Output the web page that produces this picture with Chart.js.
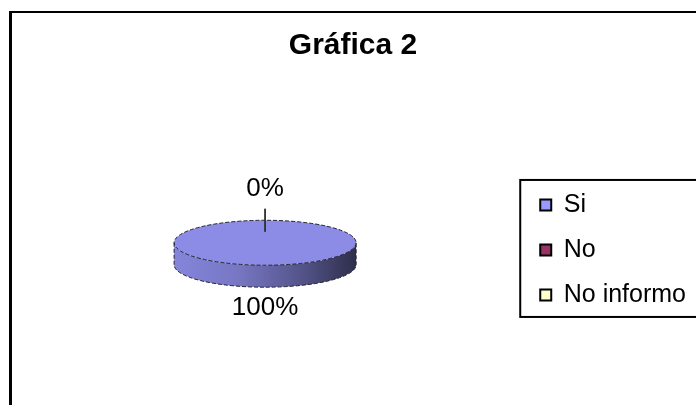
<!DOCTYPE html>
<html>
<head>
  <title>Gráfica 2</title>
  <script src="https://cdn.jsdelivr.net/npm/chart.js@4.4.0/dist/chart.umd.min.js"></script>
  <style>
    html, body { margin: 0; padding: 0; background: #fff; }
    .chart-container { position: relative; width: 696px; height: 405px; }
  </style>
</head>
<body>
  <div class="chart-container">
    <canvas id="chart"></canvas>
  </div>

  <script>
// data
var categories = ["Si", "No", "No informo"];
var values = [100, 0, 0];

var FONT = "'Liberation Sans', Arial, sans-serif";
var TILT = 0.247;   // flattening of the pie (ry / rx)
var DEPTH = 22;     // thickness of the 3d side
var legendColors = ["#9999ff", "#993366", "#ffffcc"];

function shade(hex, f) {
  var n = parseInt(hex.slice(1), 16);
  var r = Math.round(((n >> 16) & 255) * f);
  var g = Math.round(((n >> 8) & 255) * f);
  var b = Math.round((n & 255) * f);
  return "rgb(" + r + "," + g + "," + b + ")";
}

// outer frame of the chart object + border around the legend
var framePlugin = {
  id: "frame",
  beforeDraw: function(chart) {
    var ctx = chart.ctx;
    ctx.save();
    ctx.fillStyle = "#000";
    ctx.fillRect(9, 11, 3, chart.height);
    ctx.fillRect(9, 11, chart.width, 2);
    ctx.restore();
  },
  afterDraw: function(chart) {
    var hb = chart.legend.legendHitBoxes;
    if (!hb || !hb.length) return;
    var ctx = chart.ctx;
    var first = hb[0], last = hb[hb.length - 1];
    var left = first.left - 20;
    var top = first.top - 12.5;
    var bottom = last.top + last.height + 9.5;
    ctx.save();
    ctx.strokeStyle = "#000";
    ctx.lineWidth = 2;
    ctx.strokeRect(left, top, chart.width + 10 - left, bottom - top);
    ctx.restore();
  }
};

// squashes the pie into an ellipse and adds the side, outline and labels
var pie3d = {
  id: "pie3d",
  beforeDatasetsDraw: function(chart) {
    var ctx = chart.ctx;
    var meta = chart.getDatasetMeta(0);
    var ds = chart.data.datasets[0];
    meta.data.forEach(function(arc, i) {
      var cx = arc.x, cy = arc.y, rx = arc.outerRadius, ry = rx * TILT;
      for (var k = -1; k <= 1; k++) {
        var s = Math.max(arc.startAngle, 2 * Math.PI * k);
        var e = Math.min(arc.endAngle, Math.PI + 2 * Math.PI * k);
        if (s >= e) continue;
        var base = ds.backgroundColor[i];
        var grad = ctx.createLinearGradient(cx - rx, 0, cx + rx, 0);
        grad.addColorStop(0, shade(base, 0.95));
        grad.addColorStop(0.35, shade(base, 0.85));
        grad.addColorStop(0.7, shade(base, 0.6));
        grad.addColorStop(1, shade(base, 0.33));
        ctx.save();
        ctx.beginPath();
        ctx.ellipse(cx, cy, rx, ry, 0, s, e);
        ctx.ellipse(cx, cy + DEPTH, rx, ry, 0, e, s, true);
        ctx.closePath();
        ctx.fillStyle = grad;
        ctx.fill();
        ctx.restore();
      }
    });
    var a0 = meta.data[0];
    ctx.save();
    ctx.translate(a0.x, a0.y);
    ctx.scale(1, TILT);
    ctx.translate(-a0.x, -a0.y);
  },
  afterDatasetsDraw: function(chart) {
    var ctx = chart.ctx;
    ctx.restore();
    var meta = chart.getDatasetMeta(0);
    var a0 = meta.data[0];
    var cx = a0.x, cy = a0.y, rx = a0.outerRadius, ry = rx * TILT;

    // dashed outline like the original export
    ctx.save();
    ctx.strokeStyle = "#22222e";
    ctx.lineWidth = 1;
    ctx.setLineDash([4, 2]);
    ctx.beginPath();
    ctx.ellipse(cx, cy, rx, ry, 0, 0, 2 * Math.PI);
    ctx.stroke();
    ctx.beginPath();
    ctx.moveTo(cx - rx, cy);
    ctx.lineTo(cx - rx, cy + DEPTH);
    ctx.ellipse(cx, cy + DEPTH, rx, ry, 0, Math.PI, 0, true);
    ctx.lineTo(cx + rx, cy);
    ctx.stroke();
    ctx.restore();

    // percentage labels
    var total = values.reduce(function(a, b) { return a + b; }, 0);
    var done = {};
    ctx.save();
    ctx.font = "26px " + FONT;
    ctx.fillStyle = "#000";
    ctx.textAlign = "center";
    ctx.textBaseline = "middle";
    meta.data.forEach(function(arc, i) {
      var mid = (arc.startAngle + arc.endAngle) / 2;
      var c = Math.cos(mid), s = Math.sin(mid);
      var ex = cx + c * rx;
      var ey = cy + s * ry + (s > 0 ? DEPTH : 0);
      var txt = Math.round(values[i] / total * 100) + "%";
      var dist = 21;
      if (values[i] === 0) {
        dist = 31.5;
        ctx.save();
        ctx.strokeStyle = "#333";
        ctx.lineWidth = 1.5;
        ctx.beginPath();
        ctx.moveTo(ex - c * 11.5, ey - s * 11.5);
        ctx.lineTo(ex + c * 11.5, ey + s * 11.5);
        ctx.stroke();
        ctx.restore();
      }
      var tx = ex + c * dist, ty = ey + s * dist;
      var key = Math.round(tx) + "," + Math.round(ty) + txt;
      if (done[key]) return;
      done[key] = true;
      ctx.fillText(txt, tx, ty);
    });
    ctx.restore();
  }
};

var ctx = document.getElementById("chart").getContext("2d");
var chart = new Chart(ctx, {
  type: "pie",
  data: {
    labels: categories,
    datasets: [{
      data: values,
      backgroundColor: ["#8c8ce6", "#993366", "#ffffcc"],
      borderWidth: 0,
      radius: 91
    }]
  },
  options: {
    responsive: true,
    maintainAspectRatio: false,
    animation: false,
    events: [],
    layout: { padding: { left: 10, right: 0, top: 0, bottom: 0 } },
    plugins: {
      title: {
        display: true,
        text: "Gráfica 2",
        color: "#000",
        font: { family: FONT, size: 30, weight: "bold" },
        padding: { top: 27.5, bottom: 17 }
      },
      legend: {
        position: "right",
        fullSize: false,
        title: { display: true, text: "", padding: 0 },
        labels: {
          boxWidth: 11,
          boxHeight: 11,
          padding: 20,
          color: "#000",
          font: { family: FONT, size: 25 },
          generateLabels: function(chart) {
            var items = Chart.overrides.pie.plugins.legend.labels.generateLabels(chart);
            items.forEach(function(it, i) {
              it.fillStyle = legendColors[i];
              it.strokeStyle = "#000";
              it.lineWidth = 2;
            });
            return items;
          }
        }
      },
      tooltip: { enabled: false }
    }
  },
  plugins: [framePlugin, pie3d]
});
  </script>
</body>
</html>
